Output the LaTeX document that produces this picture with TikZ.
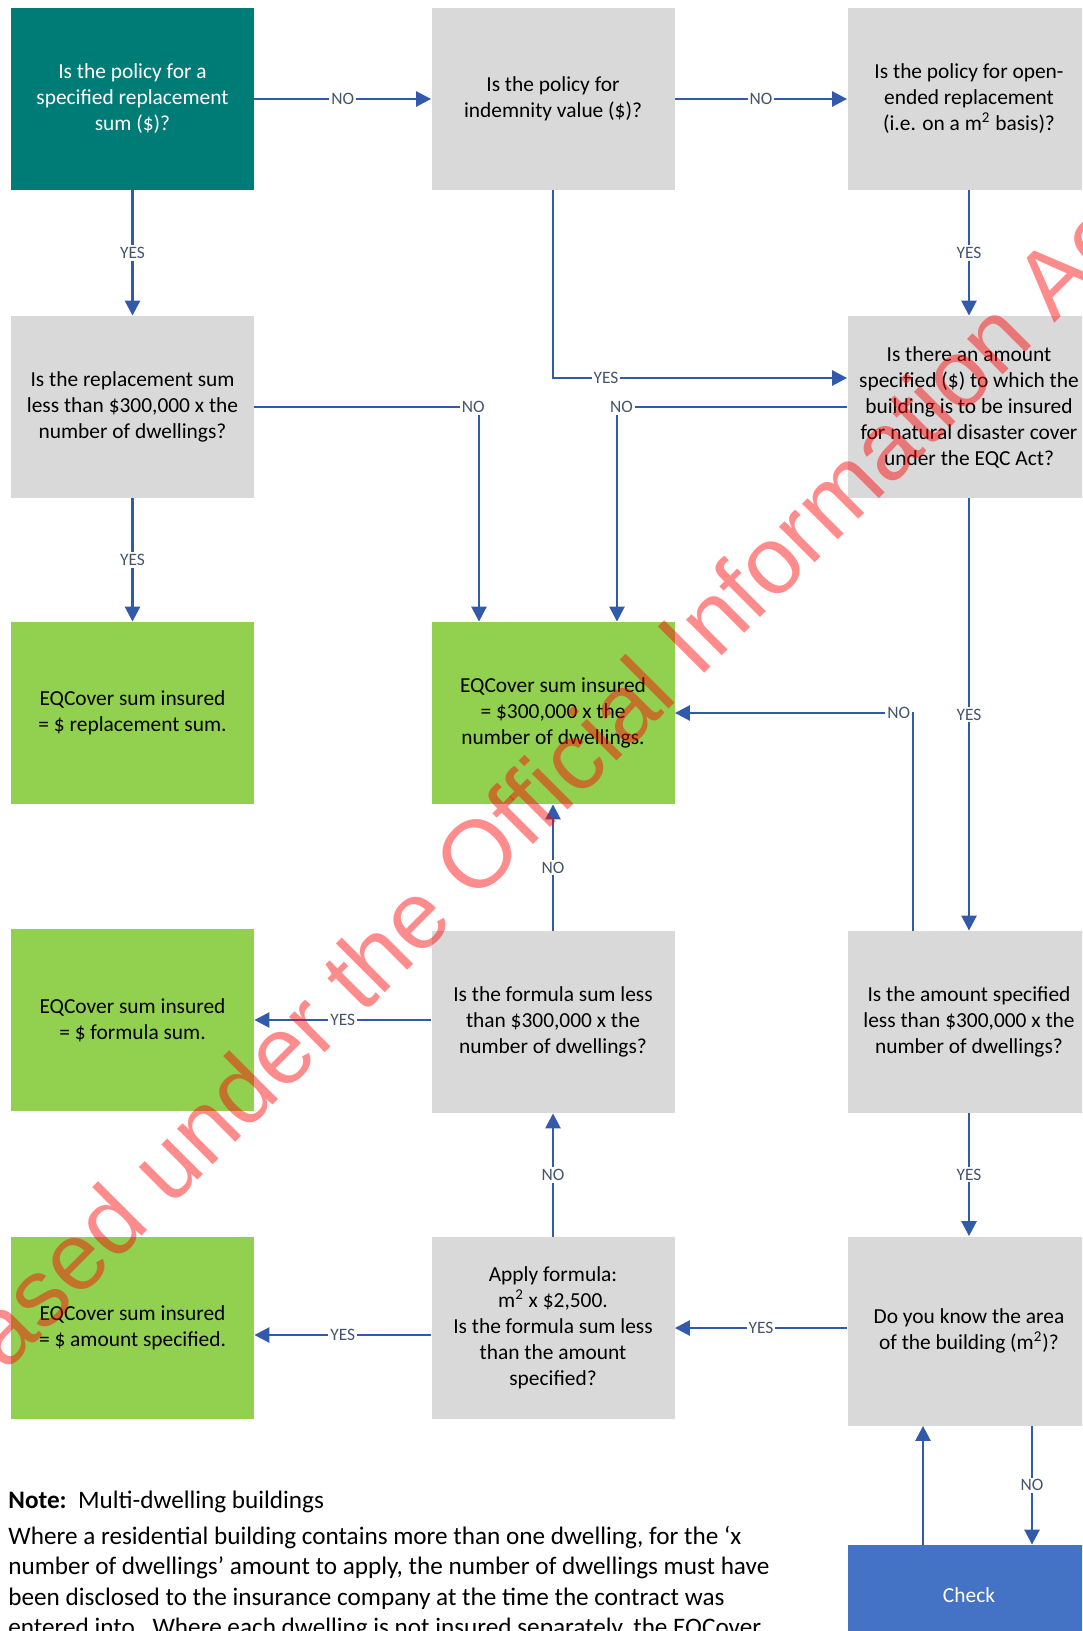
\documentclass[tikz,border=0pt]{standalone}
\usepackage{fontspec}
\setmainfont{Carlito}
\newfontfamily\stampfont{Liberation Sans}
\usetikzlibrary{arrows.meta}
\definecolor{tealbox}{RGB}{0,124,118}
\definecolor{askgray}{RGB}{217,217,217}
\definecolor{okgreen}{RGB}{146,208,80}
\definecolor{checkblue}{RGB}{68,114,196}
\definecolor{flowblue}{RGB}{50,90,170}
\definecolor{lblgray}{RGB}{68,84,106}
\begin{document}
\begin{tikzpicture}[x=0.5pt,y=-0.5pt,
		box/.style={rectangle, inner sep=2pt, align=center, minimum width=121.5pt, minimum height=91pt, font=\fontsize{10.7}{13}\selectfont},
		startbox/.style={box, fill=tealbox, text=white},
		askbox/.style={box, fill=askgray},
		endbox/.style={box, fill=okgreen},
		checkbox/.style={box, fill=checkblue, text=white, minimum height=50pt},
		flow/.style={draw=flowblue, line width=1.3pt, -{Triangle[length=7.5pt,width=7.5pt]}},
		lbl/.style={fill=white, inner sep=1pt, text=lblgray, font=\fontsize{8.7}{9}\selectfont},
		notetext/.style={inner sep=0pt, anchor=base west, font=\fontsize{12.6}{14}\selectfont},
		stamp/.style={inner sep=0pt, anchor=base west, rotate=45, text=red, text opacity=0.45, font=\stampfont\fontsize{47.7}{50}\selectfont}]
	\useasboundingbox (0,0) rectangle (1082,1631);
	\clip (0,0) rectangle (1082,1631);
	
	\node[startbox] (spec) at (132.5,99) {Is the policy for a\\specified replacement\\sum (\$)?};
	\node[askbox] (indem) at (553,99) {Is the policy for\\indemnity value (\$)?};
	\node[askbox] (open) at (969,99) {Is the policy for open-\\ended replacement\\(i.e. on a m\textsuperscript{2} basis)?};
	
	\node[askbox] (repl) at (132.5,407) {Is the replacement sum\\less than \$300,000 x the\\number of dwellings?};
	\node[askbox] (amt) at (969,407) {Is there an amount\\specified (\$) to which the\\building is to be insured\\for natural disaster cover\\under the EQC Act?};
	
	\node[endbox] (coverrepl) at (132.5,713) {EQCover sum insured\\= \$ replacement sum.};
	\node[endbox] (covermax) at (553,713) {EQCover sum insured\\= \$300,000 x the\\number of dwellings.};
	
	\node[endbox] (coverform) at (132.5,1020) {EQCover sum insured\\= \$ formula sum.};
	\node[askbox] (formless) at (553,1022) {Is the formula sum less\\than \$300,000 x the\\number of dwellings?};
	\node[askbox] (amtless) at (969,1022) {Is the amount specified\\less than \$300,000 x the\\number of dwellings?};
	
	\node[endbox] (coveramt) at (132.5,1328) {EQCover sum insured\\= \$ amount specified.};
	\node[askbox] (apply) at (553,1328) {Apply formula:\\m\textsuperscript{2} x \$2,500.\\Is the formula sum less\\than the amount\\specified?};
	\node[askbox, minimum height=94.5pt] (area) at (969,1331) {Do you know the area\\of the building (m\textsuperscript{2})?};
	\node[checkbox] (check) at (969,1595) {Check};
	
	\draw[flow] (spec) -- node[lbl]{NO} (indem);
	\draw[flow] (indem) -- node[lbl]{NO} (open);
	\draw[flow] (spec) -- node[lbl]{YES} (repl);
	\draw[flow] (open) -- node[lbl]{YES} (amt);
	\draw[flow] (indem.south) |- node[lbl, pos=0.59]{YES} ([yshift=14.5pt]amt.west);
	\draw[flow] (amt.west) -| node[lbl, pos=0.49]{NO} ([xshift=32pt]covermax.north);
	\draw[flow] (repl.east) -| node[lbl, pos=0.487]{NO} ([xshift=-37pt]covermax.north);
	\draw[flow] (repl) -- node[lbl]{YES} (coverrepl);
	\draw[flow] (amt) -- node[lbl]{YES} (amtless);
	\draw[flow] ([xshift=-28pt]amtless.north) |- node[lbl, pos=0.53]{NO} (covermax.east);
	\draw[flow] (amtless) -- node[lbl]{YES} (area);
	\draw[flow] (formless) -- node[lbl]{NO} (covermax);
	\draw[flow] (formless.west |- coverform) -- node[lbl]{YES} (coverform.east);
	\draw[flow] (apply) -- node[lbl]{NO} (formless);
	\draw[flow] ([yshift=-3.5pt]apply.west) -- node[lbl]{YES} ([yshift=-3.5pt]coveramt.east);
	\draw[flow] (area.west |- apply) -- node[lbl]{YES} (apply.east);
	\draw[flow] ([xshift=-23pt]check.north) -- ([xshift=-23pt]area.south);
	\draw[flow] ([xshift=31.5pt]area.south) -- node[lbl]{NO} ([xshift=31.5pt]check.north);
	
	\node[notetext] (notehead) at (8,1508) {\textbf{Note:}\ \ Multi-dwelling buildings};
	\node[notetext] (note1) at (8,1544) {Where a residential building contains more than one dwelling, for the ‘x};
	\node[notetext] (note2) at (8,1574) {number of dwellings’ amount to apply, the number of dwellings must have};
	\node[notetext] (note3) at (8,1605) {been disclosed to the insurance company at the time the contract was};
	\node[notetext] (note4) at (8,1635) {entered into.\ \ Where each dwelling is not insured separately, the EQCover};
	
	\node[stamp] (oia) at (-133,1511) {Released under the Official Information Act};
\end{tikzpicture}
\end{document}
